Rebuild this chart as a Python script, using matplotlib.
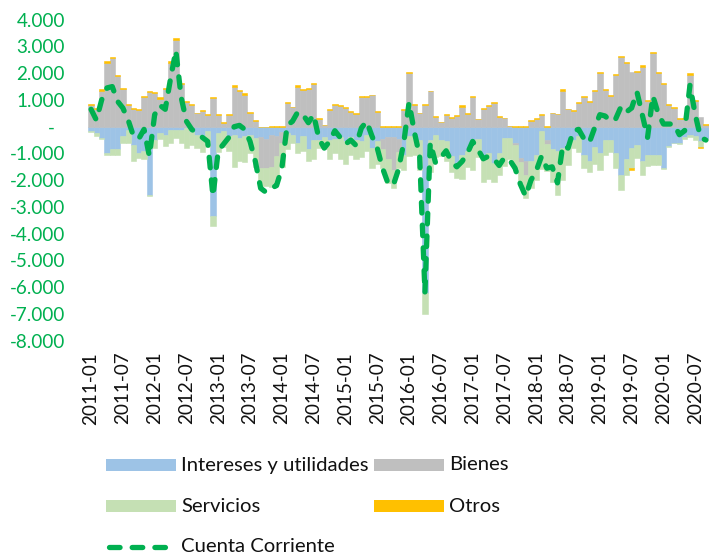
import matplotlib
matplotlib.use("Agg")
import matplotlib.pyplot as plt
import numpy as np
from matplotlib.patches import Rectangle
from matplotlib.lines import Line2D

plt.rcParams['font.family'] = ['Lato', 'DejaVu Sans']

# ---------------- data (millones US$, mensual 2011-01 .. 2020-09) ----------------
intereses = [-150, -240, -420, -1000, -850, -850, -360, -110, -670, -980, -900, -2550,
             -500, -250, -300, -110, -110, -110, -50, -200, -300, -360, -170, -3350,
             -240, -170, -360, -300, -420, -360, -300, -420, -400, -450, -300, -350,
             -200, -250, -300, -600, -350, -850, -500, -500, -400, -500, -450, -400,
             -550, -400, -500, -550, -300, -800, -550, -450, -400, -400, -450, -1050,
             -360, -300, -500, -6200, -500, -300, -500, -550, -1100, -1400, -1050, -900,
             -600, -450, -1050, -1000, -1350, -1000, -420, -420, -600, -1170, -1300, -1300,
             -1050, -170, -480, -850, -920, -800, -750, -480, -360, -1050, -1300, -750,
             -1000, -500, -500, -1000, -1800, -1200, -800, -670, -1300, -1040, -1050, -1050,
             -1550, -730, -600, -600, -400, -300, -350, -550, -450]
bienes = [800, 650, 1350, 2400, 2550, 1900, 1400, 820, 680, 620, 1100, 1300,
          1250, 1050, 1400, 2400, 3250, 1600, 920, 820, 500, 570, 450, 1070,
          420, 140, 450, 1500, 1340, 1200, 500, 220, -1150, -1100, -1200, -750,
          -400, 880, 720, 1500, 1360, 1400, 1600, 300, 50, 620, 820, 780,
          700, 550, 480, 1120, 1100, 1170, 550, -400, -800, -1200, -500, 630,
          2000, 820, 500, 820, 1320, 380, 170, 450, 320, 390, 720, 480,
          1100, 280, 670, 760, 880, 380, 320, 20, -80, -150, -500, 220,
          300, 450, -160, 500, 470, 1340, 660, 600, 880, 1120, 920, 1340,
          2000, 1380, 1130, 1920, 2590, 2380, 2040, 2040, 2250, 950, 2750, 2000,
          1600, 820, 700, 300, 300, 1940, 950, 350, 70]
servicios = [-50, -90, -50, -50, -190, -190, -250, -500, -620, -190, -300, -50,
             -300, -200, -430, -500, -300, -500, -750, -500, -500, -600, -600, -350,
             -700, -600, -550, -1200, -850, -950, -700, -1100, -700, -650, -750, -1000,
             -900, -600, -300, -400, -550, -450, -700, -300, -450, -700, -550, -800,
             -850, -650, -700, -600, -600, -750, -850, -700, -900, -700, -600, -550,
             -750, -750, -1100, -800, -1200, -850, -600, -750, -600, -500, -900, -600,
             -1000, -700, -1000, -950, -700, -800, -1050, -800, -850, -800, -850, -1000,
             -950, -1400, -1000, -1200, -1650, -1200, -700, -300, -600, -500, -400, -650,
             -600, -550, -450, -550, -550, -600, -750, -500, -500, -430, -400, -400,
             -20, -20, -20, -50, -50, -100, -150, -200, -50]
otros = [50, 40, 50, 50, 60, 50, 50, 40, 30, 30, 50, 50,
         50, 50, 50, 50, 80, 50, 40, 40, 30, 50, 40, 50,
         40, 30, 40, 50, 50, 50, 40, 30, 0, 0, 20, 20,
         30, 30, 30, 50, 40, 50, 50, 40, 20, 30, 30, 30,
         30, 30, 30, 30, 30, 30, 30, 10, 10, 10, 10, 20,
         30, 30, 20, 30, 30, 30, 20, 30, 30, 30, 80, 30,
         30, 20, 40, 40, 30, 30, 20, 10, 10, 10, 10, 20,
         20, 20, 10, 20, 20, 80, 20, 20, 30, 30, 30, 40,
         50, 40, 40, 40, 50, 50, -50, 40, 50, 30, 50, 50,
         30, 30, 20, 20, 20, 50, 50, -30, 20]
cuenta_corriente = [650, 250, 1000, 1450, 1500, 950, 700, 250, -350, -450, -100, -1100,
                    450, 800, 650, 1800, 2850, 1100, 200, -100, -250, -400, -550, -2600,
                    -900, -650, -400, 0, 50, -100, -550, -1300, -2300, -2450, -2300, -2200,
                    -1550, 50, 200, 550, 450, 150, 450, -450, -800, -550, -150, -400,
                    -650, -500, -700, -50, 200, -350, -800, -1550, -2100, -2200, -1600, -600,
                    900, -200, -1100, -6200, -600, -1350, -1150, -900, -1300, -1500, -1300, -1000,
                    -550, -850, -1200, -1100, -1200, -1450, -1150, -1250, -1550, -2150, -2600, -2000,
                    -1650, -1100, -1550, -1500, -2100, -700, -800, -150, -100, -450, -600, -50,
                    450, 400, 200, 300, 750, 550, 700, 1300, 450, -400, 1150, 500,
                    100, 100, 100, -300, -150, 1550, 450, -400, -500]

tick_labels = ['2011-01', '2011-07', '2012-01', '2012-07', '2013-01', '2013-07',
               '2014-01', '2014-07', '2015-01', '2015-07', '2016-01', '2016-07',
               '2017-01', '2017-07', '2018-01', '2018-07', '2019-01', '2019-07',
               '2020-01', '2020-07']
y_ticks = [4000, 3000, 2000, 1000, 0, -1000, -2000, -3000, -4000, -5000, -6000, -7000, -8000]
y_labels = ['4.000', '3.000', '2.000', '1.000', '-  ', '-1.000', '-2.000', '-3.000',
            '-4.000', '-5.000', '-6.000', '-7.000', '-8.000']

series = [('Intereses y utilidades', intereses, '#9DC3E6'),
          ('Bienes', bienes, '#BFBFBF'),
          ('Servicios', servicios, '#C5E0B4'),
          ('Otros', otros, '#FFC000')]

W, H = 710, 556
fig = plt.figure(figsize=(W / 100, H / 100), dpi=100)
ax = fig.add_axes([88.4 / W, 1 - 340.7 / H, 620.1 / W, 321 / H])

n = len(bienes)
x = np.arange(n)
pos = np.zeros(n)
neg = np.zeros(n)
for name, vals, col in series:
    v = np.array(vals, dtype=float)
    bottom = np.where(v >= 0, pos, neg)
    ax.bar(x, v, bottom=bottom, width=1.0, color=col, edgecolor=col, linewidth=0.4, zorder=2)
    pos = pos + np.where(v >= 0, v, 0)
    neg = neg + np.where(v < 0, v, 0)

LW = 3.8
DASH = (2.0, 2.3)
ax.plot(x, cuenta_corriente, color='#00B050', lw=LW, dashes=DASH,
        dash_capstyle='round', solid_joinstyle='round', zorder=3)

ax.set_xlim(-0.5, n - 0.5)
ax.set_ylim(-8000, 4000)
ax.set_yticks(y_ticks, y_labels)
ax.set_xticks(np.arange(0, n, 6)[:len(tick_labels)], tick_labels, rotation=90)
ax.tick_params(axis='y', length=0, pad=17, labelsize=13.6, labelcolor='#00B050')
ax.tick_params(axis='x', length=0, pad=8, labelsize=13.6, labelcolor='#111111')
for s in ax.spines.values():
    s.set_visible(False)

# ---------------- legend (manual layout) ----------------
def fx(px):
    return px / W

def fy(py):
    return 1 - py / H

rows = [(465, [(106, 181, series[0]), (374, 449, series[1])]),
        (506, [(106, 181, series[2]), (374, 449, series[3])])]
for yc, items in rows:
    for px0, tx, (name, _, col) in items:
        fig.add_artist(Rectangle((fx(px0), fy(yc + 6)), fx(70), 12 / H,
                                 transform=fig.transFigure, color=col, lw=0))
        fig.text(fx(tx), fy(yc), name, fontsize=14.6, va='center', ha='left', color='#111111')

fig.add_artist(Line2D([fx(109), fx(173)], [fy(547), fy(547)], transform=fig.transFigure,
                      color='#00B050', lw=LW, dashes=DASH, dash_capstyle='round'))
fig.text(fx(181), fy(547), 'Cuenta Corriente', fontsize=14.6, va='center', ha='left', color='#111111')

fig.savefig('out.png', dpi=100)
